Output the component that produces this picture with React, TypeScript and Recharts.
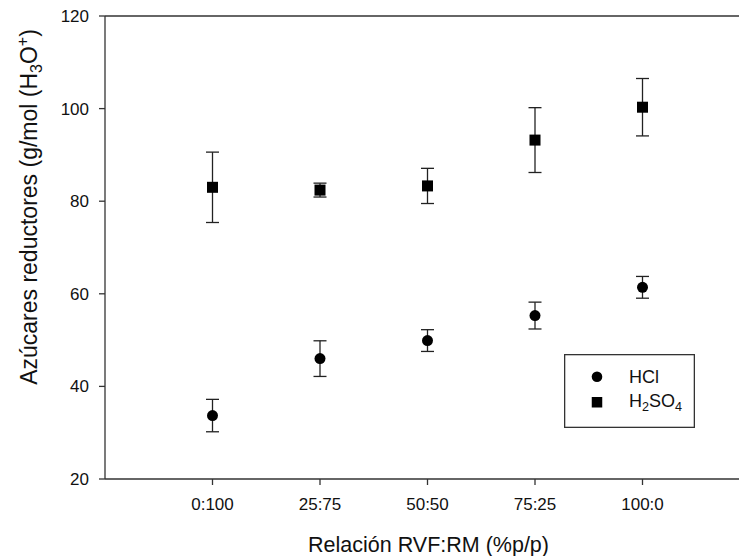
import React from 'react';
import { ScatterChart, Scatter, XAxis, YAxis, ErrorBar, ReferenceLine, Legend } from 'recharts';

const categories = ['0:100', '25:75', '50:50', '75:25', '100:0'];
const positions = [1, 2, 3, 4, 5];
const hclValues = [33.7, 46.0, 49.9, 55.3, 61.4];
const hclErrors = [3.5, 3.85, 2.35, 2.9, 2.35];
const h2so4Values = [83.0, 82.4, 83.3, 93.2, 100.3];
const h2so4Errors = [7.6, 1.5, 3.8, 7.0, 6.2];
const yTicks = [20, 40, 60, 80, 100, 120];

const hclData = positions.map((x, i) => ({ x, y: hclValues[i], err: hclErrors[i] }));
const h2so4Data = positions.map((x, i) => ({ x, y: h2so4Values[i], err: h2so4Errors[i] }));

const FONT = '"Liberation Sans", Arial, sans-serif';
const AXIS = '#333';

const CircleShape = (p: any) => <circle cx={p.cx} cy={p.cy} r={5.5} fill="#000" />;
const SquareShape = (p: any) => <rect x={p.cx - 5.5} y={p.cy - 5.5} width={11} height={11} fill="#000" />;

const LegendBox = () => (
  <svg width={131} height={74} style={{ display: 'block', fontFamily: FONT }}>
    <rect x={0.65} y={0.65} width={129.7} height={72.7} fill="#fff" stroke={AXIS} strokeWidth={1.3} />
    <circle cx={33} cy={22.7} r={5.3} fill="#000" />
    <rect x={27.75} y={43} width={10.5} height={10.5} fill="#000" />
    <text x={65} y={28.7} fontSize={18} fill="#111">HCl</text>
    <text x={65} y={52.7} fontSize={18} fill="#111">
      H<tspan fontSize={12.6} dy={4}>2</tspan>
      <tspan dy={-4}>SO</tspan>
      <tspan fontSize={12.6} dy={4}>4</tspan>
    </text>
  </svg>
);

const YTitle = () => (
  <text
    transform="translate(37.3,207) rotate(-90)"
    textAnchor="middle"
    fontSize={23}
    fill="#111"
    style={{ fontFamily: FONT }}
  >
    Azúcares reductores (g/mol (H<tspan fontSize={16} dy={5}>3</tspan>
    <tspan fontSize={23} dy={-5}>O</tspan>
    <tspan fontSize={16} dy={-9}>+</tspan>
    <tspan fontSize={23} dy={9}>)</tspan>
  </text>
);

const XTitle = () => (
  <text x={428.5} y={551.7} textAnchor="middle" fontSize={21.5} fill="#111" style={{ fontFamily: FONT }}>
    Relación RVF:RM (%p/p)
  </text>
);

export default function App() {
  return (
    <div
      style={{
        position: 'absolute',
        left: 0,
        top: 0,
        width: 739,
        height: 556,
        overflow: 'hidden',
        background: '#fff',
        fontFamily: FONT,
      }}
    >
      <ScatterChart width={750} height={556} margin={{ top: 16, right: 0, bottom: 47, left: 45 }}>
        <XAxis
          type="number"
          dataKey="x"
          domain={[0, 6]}
          ticks={positions}
          interval={0}
          height={30}
          tickFormatter={(v: number) => categories[positions.indexOf(v)]}
          tickSize={6}
          tickMargin={13}
          axisLine={{ stroke: AXIS, strokeWidth: 1.3 }}
          tickLine={{ stroke: AXIS, strokeWidth: 1.3 }}
          tick={{ fill: '#111', fontSize: 17, fontFamily: FONT }}
          label={{ content: () => <XTitle /> }}
        />
        <YAxis
          type="number"
          dataKey="y"
          domain={[20, 120]}
          ticks={yTicks}
          interval={0}
          width={60}
          tickSize={6}
          tickMargin={10}
          axisLine={{ stroke: AXIS, strokeWidth: 1.3 }}
          tickLine={{ stroke: AXIS, strokeWidth: 1.3 }}
          tick={{ fill: '#111', fontSize: 17, fontFamily: FONT }}
          label={{ content: () => <YTitle /> }}
        />
        <ReferenceLine y={120} stroke={AXIS} strokeWidth={1.3} />
        <Legend
          verticalAlign="middle"
          align="center"
          content={() => <LegendBox />}
          wrapperStyle={{ position: 'absolute', left: 564, top: 354, width: 131, height: 74, margin: 0, padding: 0 }}
        />
        <Scatter name="HCl" data={hclData} shape={CircleShape} fill="#000" isAnimationActive={false}>
          <ErrorBar dataKey="err" direction="y" width={6.5} stroke="#222" strokeWidth={1.3} isAnimationActive={false} />
        </Scatter>
        <Scatter name="H2SO4" data={h2so4Data} shape={SquareShape} fill="#000" isAnimationActive={false}>
          <ErrorBar dataKey="err" direction="y" width={6.5} stroke="#222" strokeWidth={1.3} isAnimationActive={false} />
        </Scatter>
      </ScatterChart>
    </div>
  );
}
